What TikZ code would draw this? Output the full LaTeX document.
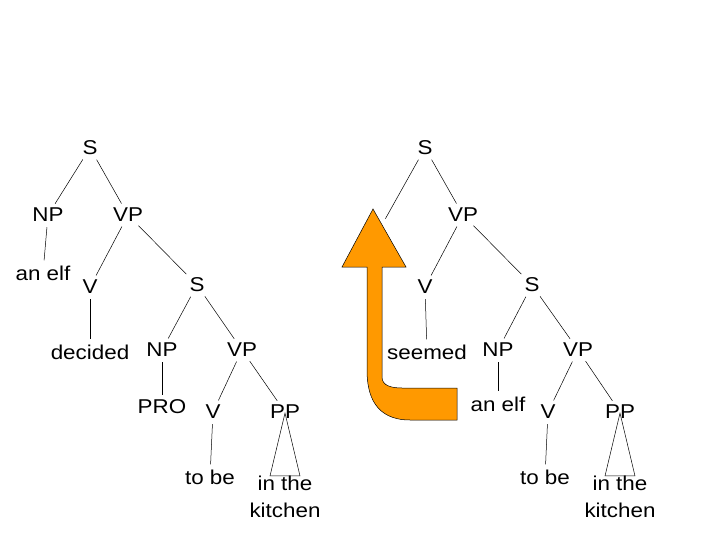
\documentclass[tikz,border=0pt]{standalone}
\usepackage{fontspec}
\setmainfont{Liberation Sans}[FakeStretch=1.12]
\begin{document}
\begin{tikzpicture}[x=1pt,y=-1pt,
  lab/.style={inner sep=0pt,font=\fontsize{20}{24}\selectfont},
  br/.style={draw=black,line width=0.5pt,shorten <=5pt,shorten >=5pt}]
\useasboundingbox (0,0) rectangle (720,540);
% left tree
\node[lab] (lS) at (90,148) {S};
\node[lab] (lNP) at (48,215) {NP};
\node[lab] (lVP) at (128,215) {VP};
\node[lab] (lelf) at (43,273) {an elf};
\node[lab] (lV) at (90,287) {V};
\node[lab] (lS2) at (197,285) {S};
\node[lab] (ldec) at (90,352) {decided};
\node[lab] (lNP2) at (162,350) {NP};
\node[lab] (lVP2) at (242,350) {VP};
\node[lab] (lPRO) at (162,407) {PRO};
\node[lab] (lV2) at (213,412) {V};
\node[lab] (lPP) at (285,412) {PP};
\node[lab] (ltobe) at (210,477) {to be};
\node[lab,align=center] (lkit) at (285,497) {in the\\[3pt]kitchen};
\draw[br] (lS) -- (lNP);
\draw[br] (lS) -- (lVP);
\draw[br] (lNP) -- (lelf);
\draw[br] (lVP) -- (lV);
\draw[br] (lVP) -- (lS2);
\draw[br] (lV) -- (ldec);
\draw[br] (lS2) -- (lNP2);
\draw[br] (lS2) -- (lVP2);
\draw[br] (lNP2) -- (lPRO);
\draw[br] (lVP2) -- (lV2);
\draw[br] (lVP2) -- (lPP);
\draw[br] (lV2) -- (ltobe);
\draw[line width=0.5pt] ([yshift=6pt]lPP.south) -- ([xshift=-15pt]lkit.north) -- ([xshift=15pt]lkit.north) -- cycle;
% right tree
\node[lab] (rS) at (425,148) {S};
\coordinate (rNPgap) at (383,215);
\node[lab] (rVP) at (463,215) {VP};
\node[lab] (rV) at (425,287) {V};
\node[lab] (rS2) at (532,285) {S};
\node[lab] (rseem) at (427,352) {seemed};
\node[lab] (rNP2) at (498,350) {NP};
\node[lab] (rVP2) at (578,350) {VP};
\node[lab] (relf) at (498,404) {an elf};
\node[lab] (rV2) at (548,412) {V};
\node[lab] (rPP) at (620,412) {PP};
\node[lab] (rtobe) at (545,477) {to be};
\node[lab,align=center] (rkit) at (620,497) {in the\\[3pt]kitchen};
\draw[br] (rS) -- ([yshift=-8pt]rNPgap);
\draw[br] (rS) -- (rVP);
\draw[br] (rVP) -- (rV);
\draw[br] (rVP) -- (rS2);
\draw[br] (rV) -- (rseem);
\draw[br] (rS2) -- (rNP2);
\draw[br] (rS2) -- (rVP2);
\draw[br] (rNP2) -- (relf);
\draw[br] (rVP2) -- (rV2);
\draw[br] (rVP2) -- (rPP);
\draw[br] (rV2) -- (rtobe);
\draw[line width=0.5pt] ([yshift=6pt]rPP.south) -- ([xshift=-15pt]rkit.north) -- ([xshift=15pt]rkit.north) -- cycle;
% arrow
\fill[fill={rgb,255:red,255;green,153;blue,0}] (373,209) -- (406,267) -- (382,267) -- (382,377)
  .. controls (382,386) and (392,388) .. (402,388) -- (457,388) -- (457,420) -- (410,420)
  .. controls (375,420) and (367,395) .. (367,370) -- (367,267) -- (342,267) -- cycle;
\draw[line width=0.5pt] (373,209) -- (406,267) -- (382,267) -- (382,377)
  .. controls (382,386) and (392,388) .. (402,388) -- (457,388) -- (457,420) -- (410,420)
  .. controls (375,420) and (367,395) .. (367,370) -- (367,267) -- (342,267) -- cycle;
\end{tikzpicture}
\end{document}
